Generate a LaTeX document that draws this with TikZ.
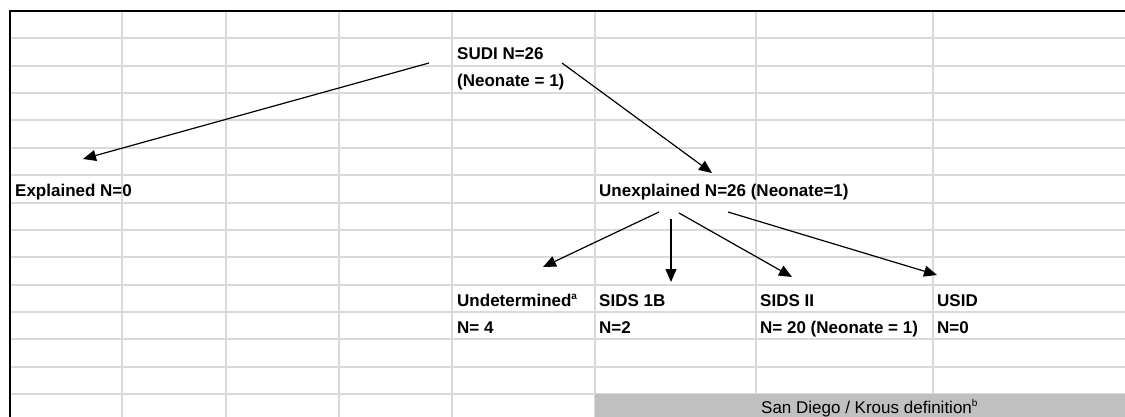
\documentclass[tikz,border=0pt]{standalone}
\usepackage{fontspec}
\setmainfont{Liberation Sans}
\usetikzlibrary{arrows.meta}
\definecolor{gridgray}{HTML}{DADADA}
\definecolor{bandgray}{HTML}{C0C0C0}
\newcommand\mysup[1]{\raisebox{0.36em}{\fontsize{10}{10}\selectfont #1}}
\begin{document}
\begin{tikzpicture}[x=1pt,y=-1pt,
  gridline/.style={draw=gridgray, line width=2pt},
  frameline/.style={draw=black, line width=2.5pt},
  lbl/.style={anchor=base west, inner sep=0pt, font=\fontsize{17}{20}\selectfont\bfseries},
  note/.style={anchor=base west, inner sep=0pt, font=\fontsize{17}{20}\selectfont},
  arr/.style={-{Triangle[length=13pt,width=11pt]}, line width=1.2pt, draw=black}]
\useasboundingbox (0,0) rectangle (1125,417);
\begin{scope}
\clip (0,0) rectangle (1125,417);
\fill[white] (0,0) rectangle (1125,417);
% grid
\foreach \k in {1,...,14} \draw[gridline] (10,11+27.36*\k) -- (1125,11+27.36*\k);
\foreach \x in {122,226,339,452,595,756,933} \draw[gridline] (\x,11) -- (\x,417);
% shaded band
\fill[bandgray] (595,394) rectangle (1125,420);
% frame
\draw[frameline] (1125,11) -- (10,11) -- (10,420);
\end{scope}
% labels
\node[lbl] (sudi) at (457,59.5) {SUDI N=26};
\node[lbl] (sudin) at (457,87) {(Neonate = 1)};
\node[lbl] (expl) at (15,196.5) {Explained N=0};
\node[lbl] (unexpl) at (599,196.5) {Unexplained N=26 (Neonate=1)};
\node[lbl] (und) at (457,306) {Undetermined\mysup{a}};
\node[lbl] (sids1b) at (599,306) {SIDS 1B};
\node[lbl] (sids2) at (760,306) {SIDS II};
\node[lbl] (usid) at (937,306) {USID};
\node[lbl] (undn) at (457,333) {N= 4};
\node[lbl] (sids1bn) at (599,333) {N=2};
\node[lbl] (sids2n) at (760,333) {N= 20 (Neonate = 1)};
\node[lbl] (usidn) at (937,333) {N=0};
\node[note] (sd) at (761,413) {San Diego / Krous definition\mysup{b}};
% arrow ends
\coordinate (sudiL) at (429,63);
\coordinate (sudiR) at (562,63);
\coordinate (explT) at (83,159);
\coordinate (unexplT) at (712,173);
\coordinate (u1) at (659,212);
\coordinate (u2) at (671,219);
\coordinate (u3) at (679,213);
\coordinate (u4) at (728,212);
\coordinate (undT) at (543,267);
\coordinate (sids1bT) at (671,282);
\coordinate (sids2T) at (792,277);
\coordinate (usidT) at (937,275);
\draw[arr] (sudiL) -- (explT);
\draw[arr] (sudiR) -- (unexplT);
\draw[arr] (u1) -- (undT);
\draw[arr] (u2) -- (sids1bT);
\draw[arr] (u3) -- (sids2T);
\draw[arr] (u4) -- (usidT);
\end{tikzpicture}
\end{document}
